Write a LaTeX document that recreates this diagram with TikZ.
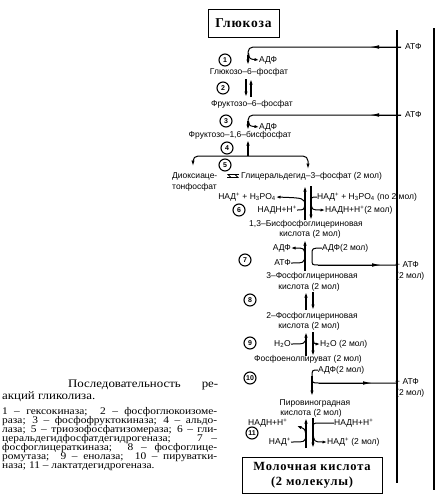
\documentclass[tikz,border=0pt]{standalone}
\usepackage{fontspec}
\setmainfont{Liberation Serif}
\newfontfamily\labfont{Liberation Sans}
\newfontfamily\boxfont{Liberation Serif}[LetterSpace=6]
\newfontfamily\captfont{Liberation Serif}[FakeStretch=1.12]
\usetikzlibrary{arrows.meta}
\tikzset{
  lbl/.style={font=\labfont\fontsize{8.5}{9}\selectfont, inner sep=0pt},
  num/.style={circle, draw, line width=1.1pt, inner sep=0pt, minimum size=12pt, font=\labfont\fontsize{7}{7}\selectfont\bfseries},
  ln/.style={line width=1pt},
  flow/.style={line width=1.1pt, -{Latex[length=5.5pt,width=3.4pt]}},
  cof/.style={line width=1pt, -{Latex[length=4.5pt,width=3.2pt]}},
  midarr/.style={line width=1pt, -{Latex[length=9pt,width=3.6pt]}},
  boxn/.style={draw, line width=1pt, inner sep=0pt, font=\boxfont\bfseries\fontsize{12.5}{15}\selectfont, align=center},
  capt/.style={anchor=base west, inner sep=0pt, font=\captfont\fontsize{10.2}{10}\selectfont},
  capth/.style={anchor=base west, inner sep=0pt, font=\captfont\fontsize{11.5}{12}\selectfont}
}
\begin{document}
\begin{tikzpicture}[x=1pt,y=-1pt]
\useasboundingbox (0,0) rectangle (441,499);
\fill[white] (0,0) rectangle (441,499);

% side lines
\coordinate (v1t) at (397,30); \coordinate (v1b) at (397,483);
\coordinate (v2t) at (434,28); \coordinate (v2b) at (434,490);
\draw[line width=1.1pt] (v1t) -- (v1b);
\draw[line width=1.1pt] (v2t) -- (v2b);

% glucose box
\node[boxn, minimum width=71pt, minimum height=28pt, font=\boxfont\bfseries\fontsize{13.5}{15}\selectfont] (glc) at (243.5,23) {Глюкоза};

% step 1
\node[lbl, anchor=west] (atpA) at (405,47) {АТФ};
\coordinate (a1s) at (401,47);
\coordinate (a1m) at (370,47);
\coordinate (a1e) at (248,65);
\draw[ln, rounded corners=5pt] (a1s) -- (248,47) -- (248,58);
\draw[flow] (248,55) -- (a1e);
\draw[midarr] (a1s) -- (a1m);
\node[num] (n1) at (225,60) {1};
\node[lbl, anchor=west] (adp1) at (259,60) {АДФ};
\draw[cof] (248.5,53) .. controls (249.5,59) .. (adp1.west);
\node[lbl] (g6p) at (249,72) {Глюкозо–6–фосфат};

% step 2
\node[num] (n2) at (223,88) {2};
\draw[flow] (246,79) -- (246,97);
\draw[flow] (251,97) -- (251,79);
\node[lbl] (f6p) at (252,104) {Фруктозо–6–фосфат};

% step 3
\node[lbl, anchor=west] (atpB) at (405,115) {АТФ};
\coordinate (a3s) at (401,115);
\coordinate (a3m) at (370,115);
\coordinate (a3e) at (248,130);
\draw[ln, rounded corners=5pt] (a3s) -- (248,115) -- (248,124);
\draw[flow] (248,121) -- (a3e);
\draw[midarr] (a3s) -- (a3m);
\node[num] (n3) at (226,121) {3};
\node[lbl, anchor=west] (adp3) at (259,127) {АДФ};
\draw[cof] (248.5,121) .. controls (249.5,126) .. (adp3.west);
\node[lbl] (f16) at (240,135) {Фруктозо–1,6–бисфосфат};

% step 4
\node[num] (n4) at (227,148) {4};
\coordinate (br) at (248,156);
\draw[flow] (br) -- (248,140);
\draw[ln, rounded corners=5pt, -{Latex[length=5.5pt,width=3.4pt]}] (br) -- (193,156) -- (193,166);
\draw[ln, rounded corners=5pt, -{Latex[length=5.5pt,width=3.4pt]}] (br) -- (308,156) -- (308,169);

% step 5
\node[num] (n5) at (225,165) {5};
\node[lbl, anchor=west] (dhap1) at (172,176) {Диоксиаце-};
\node[lbl, anchor=west] (dhap2) at (172,187) {тонфосфат};
\coordinate (h1) at (227,174.5); \coordinate (h2) at (239,174.5);
\coordinate (h3) at (227,177.5); \coordinate (h4) at (239,177.5);
\draw[line width=0.9pt, -{Straight Barb[left,length=3pt]}] (h3) -- (h4);
\draw[line width=0.9pt, -{Straight Barb[left,length=3pt]}] (h2) -- (h1);
\node[lbl, anchor=west] (g3p) at (241,176) {Глицеральдегид–3–фосфат (2 мол)};

% step 6
\draw[flow] (305,220) -- (305,186);
\draw[flow] (311,186) -- (311,220);
\node[lbl, anchor=east] (nadL6) at (276,197) {НАД\textsuperscript{+} + H\textsubscript{3}PO\textsubscript{4}};
\node[lbl, anchor=east] (nadhL6) at (297,210) {НАДН+Н\textsuperscript{+}};
\node[num] (n6) at (239,210) {6};
\node[lbl, anchor=west] (nadR6) at (317,197) {НАД\textsuperscript{+} + H\textsubscript{3}PO\textsubscript{4} (по 2 мол)};
\node[lbl, anchor=west] (nadhR6) at (325,210) {НАДН+Н\textsuperscript{+}(2 мол)};
\draw[cof] (305,205) .. controls (304,198) .. (nadL6.east);
\draw[ln] (nadhL6.east) .. controls (304,210) .. (305,204);
\draw[ln] (nadR6.west) .. controls (311,197) .. (311,203);
\draw[cof] (311,203) .. controls (312,210) .. (nadhR6.west);
\node[lbl] (bpg1) at (306,224) {1,3–Бисфосфоглицериновая};
\node[lbl] (bpg2) at (310,234) {кислота (2 мол)};

% step 7
\node[num] (n7) at (245,260) {7};
\draw[flow] (305,271) -- (305,240);
\node[lbl, anchor=east] (adpL7) at (291,248) {АДФ};
\node[lbl, anchor=east] (atpL7) at (291,263) {АТФ};
\draw[cof] (305,255) .. controls (304,248) .. (adpL7.east);
\draw[ln] (atpL7.east) .. controls (304,263) .. (305,256);
\node[lbl, anchor=west] (adpR7) at (322,248) {АДФ(2 мол)};
\node[lbl, anchor=west] (patp7) at (395,264.5) {+ АТФ};
\node[lbl, anchor=west] (mol7) at (396,276) {(2 мол)};
\coordinate (r7) at (318,265);
\draw[ln] (adpR7.west) .. controls (312,248) .. (312,255) -- (312,259) .. controls (312,265) .. (r7) -- (397,265);
\draw[midarr] (r7) -- (381,265);
\node[lbl] (pga3a) at (312,276) {3–Фосфоглицериновая};
\node[lbl] (pga3b) at (309,287) {кислота (2 мол)};

% step 8
\node[num] (n8) at (250,300) {8};
\draw[flow] (306,310) -- (306,292);
\draw[flow] (313,292) -- (313,310);
\node[lbl] (pga2a) at (312,316) {2–Фосфоглицериновая};
\node[lbl] (pga2b) at (309,326) {кислота (2 мол)};

% step 9
\node[num] (n9) at (250,343) {9};
\draw[flow] (306,356) -- (306,332);
\draw[flow] (313,332) -- (313,356);
\node[lbl, anchor=east] (h2oL) at (291,344) {H\textsubscript{2}O};
\node[lbl, anchor=west] (h2oR) at (320,344) {H\textsubscript{2}O (2 мол)};
\draw[ln] (h2oL.east) .. controls (305,344) .. (306,337);
\draw[cof] (313,337) .. controls (314,344) .. (h2oR.west);
\node[lbl] (pep) at (308,359) {Фосфоенолпируват (2 мол)};

% step 10
\node[num] (n10) at (250,378) {10};
\node[lbl, anchor=west] (adp10) at (318,370) {АДФ(2 мол)};
\node[lbl, anchor=west] (patp10) at (395,382) {+ АТФ};
\node[lbl, anchor=west] (mol10) at (396,393) {(2 мол)};
\coordinate (r10) at (319,383);
\draw[ln] (adp10.west) .. controls (312,370) .. (312,377);
\draw[flow] (312,376) -- (312,396);
\draw[ln] (312,376) .. controls (312,383) .. (r10) -- (397,383);
\draw[midarr] (r10) -- (372,383);
\node[lbl] (pyr1) at (315,403) {Пировиноградная};
\node[lbl] (pyr2) at (311,413) {кислота (2 мол)};

% step 11
\node[num] (n11) at (252,433) {11};
\draw[flow] (306,448) -- (306,418);
\draw[flow] (313,418) -- (313,448);
\node[lbl, anchor=west] (nadhL11) at (248,423) {НАДН+Н\textsuperscript{+}};
\node[lbl, anchor=east] (nadL11) at (291,442) {НАД\textsuperscript{+}};
\node[lbl, anchor=west] (nadhR11) at (334,423) {НАДН+Н\textsuperscript{+}};
\node[lbl, anchor=west] (nadR11) at (327,442) {НАД\textsuperscript{+} (2 мол)};
\draw[cof] (306,436) .. controls (305,429) .. (297,426);
\draw[ln] (nadL11.east) .. controls (305,442) .. (306,436);
\draw[ln] (nadhR11.west) -- (319,423) .. controls (313,423) .. (313,430);
\draw[cof] (313,432) .. controls (314,442) .. (nadR11.west);

% lactate box
\node[boxn, minimum width=140pt, minimum height=36pt] (lac) at (312,475) {Молочная кислота\\(2 молекулы)};

% caption
\node[capth] (c1) at (68,387) {\makebox[150pt][s]{Последовательность ре-}};
\node[capth] (c2) at (2,399) {акций гликолиза.};
\node[capt] (l1) at (2,414) {\makebox[215pt][s]{1 – гексокиназа;\ \ 2 – фосфоглюкоизоме-}};
\node[capt] (l2) at (2,423) {\makebox[215pt][s]{раза; 3 – фосфофруктокиназа; 4 – альдо-}};
\node[capt] (l3) at (2,432) {\makebox[215pt][s]{лаза; 5 – триозофосфатизомераза; 6 – гли-}};
\node[capt] (l4) at (2,441) {\makebox[215pt][s]{церальдегидфосфатдегидрогеназа;\ \ \ 7 –}};
\node[capt] (l5) at (2,450) {\makebox[215pt][s]{фосфоглицераткиназа;\ \ 8 – фосфоглице-}};
\node[capt] (l6) at (2,459) {\makebox[215pt][s]{ромутаза;\ \ 9 – енолаза;\ \ 10 – пируватки-}};
\node[capt] (l7) at (2,468) {наза; 11 – лактатдегидрогеназа.};
\end{tikzpicture}
\end{document}
